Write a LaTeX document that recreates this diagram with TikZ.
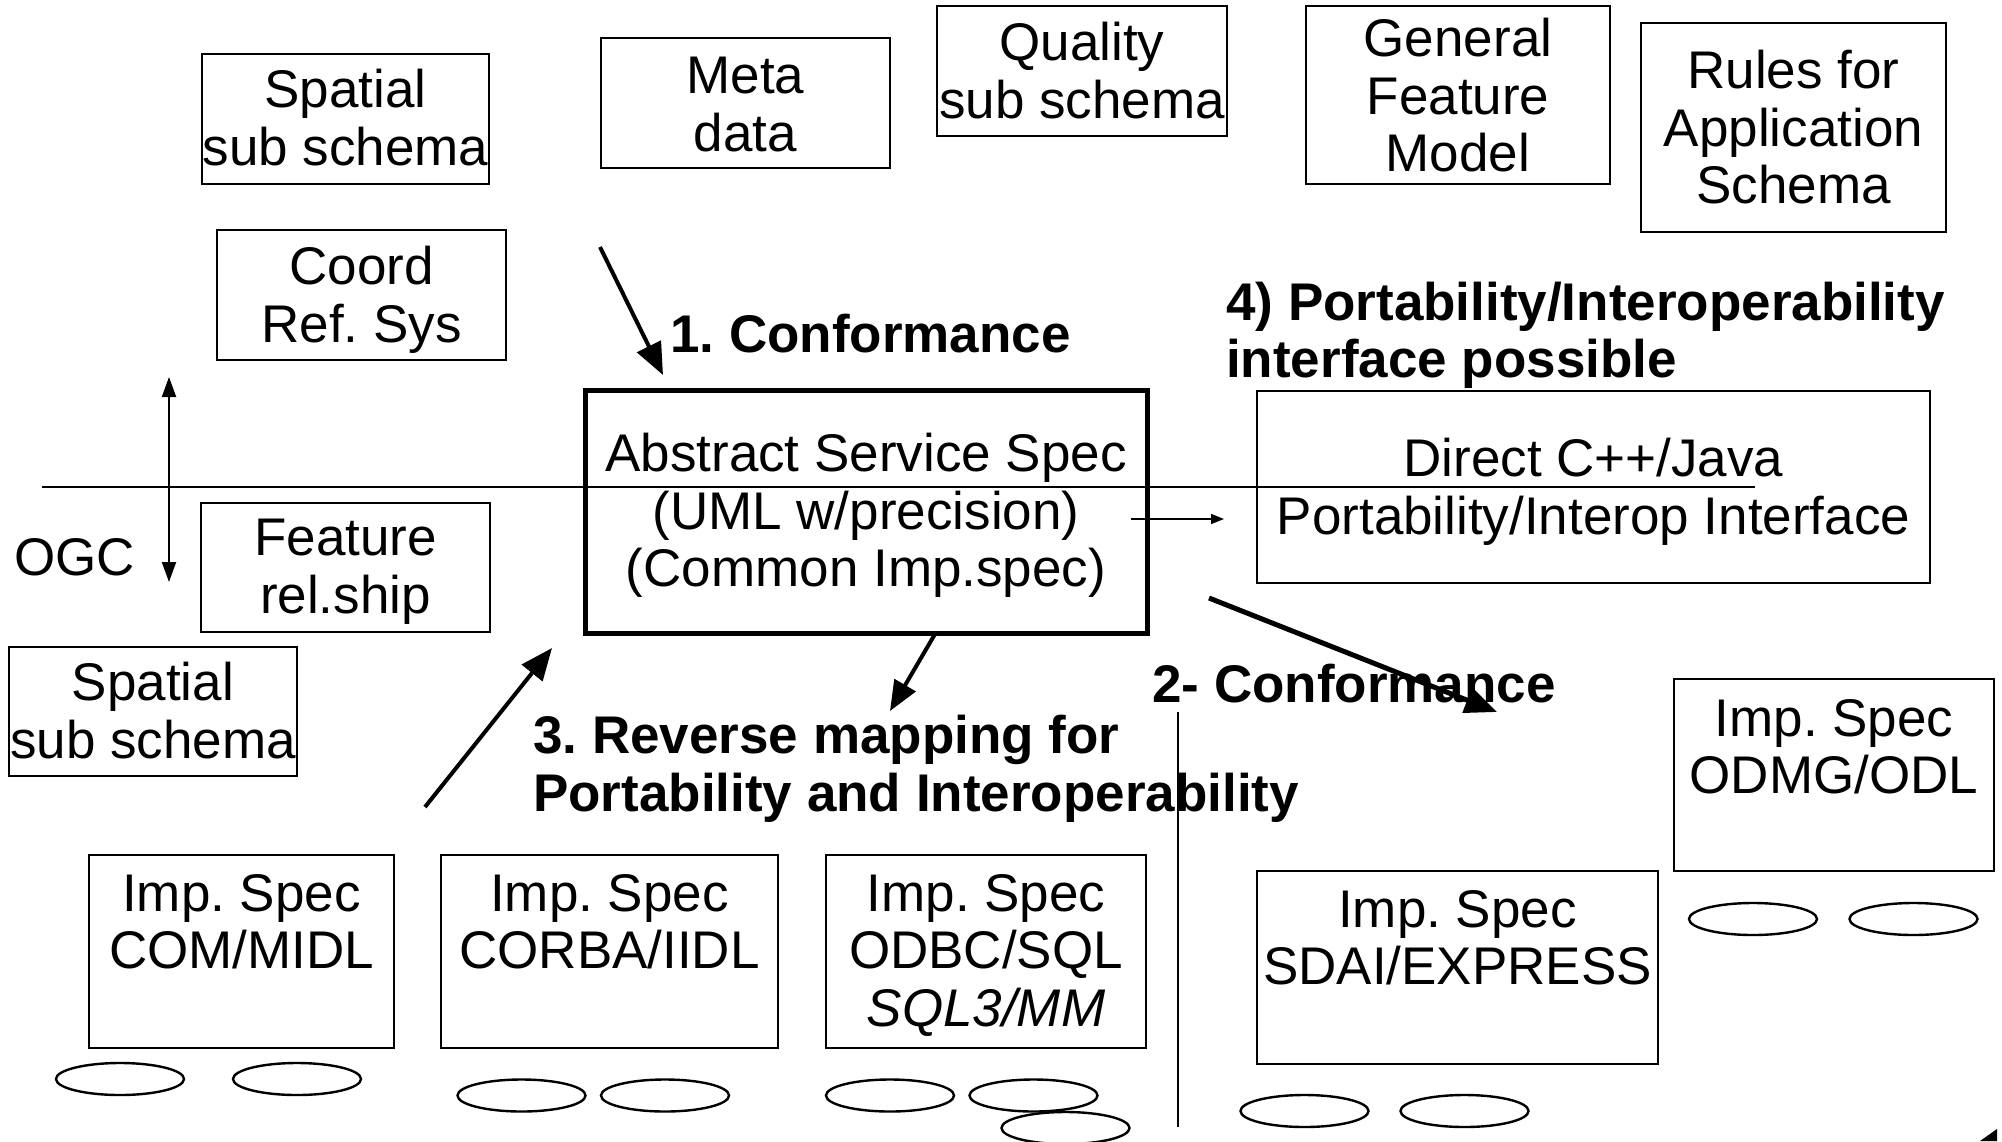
\documentclass[tikz,border=0pt]{standalone}
\usepackage{fontspec}
\setmainfont{Liberation Sans}
\usetikzlibrary{arrows.meta,shapes.geometric}
\newcommand\fsN{\fontsize{53}{57.5}\selectfont\lineskiplimit=-100pt\frenchspacing}
\newcommand\fsB{\fontsize{53}{58}\selectfont\bfseries\lineskiplimit=-100pt\frenchspacing}
\newcommand\fsC{\fontsize{53}{57}\selectfont\bfseries\lineskiplimit=-100pt\frenchspacing}
\begin{document}
\frenchspacing
\begin{tikzpicture}[x=1pt,y=-1pt,
  box/.style={draw, line width=2.4pt, inner sep=0pt},
  bigbox/.style={draw, line width=5pt, inner sep=0pt},
  txt/.style={inner sep=0pt, font=\fsN, align=center, anchor=north, yshift=3pt},
  lbl/.style={inner sep=0pt, font=\fsB, align=left},
  disk/.style={draw, ellipse, line width=2.4pt, inner sep=0pt, minimum width=128pt, minimum height=32pt},
  bigarrow/.style={line width=4pt, -{Triangle[length=32pt,width=26pt]}},
  thinarrow/.style={line width=1.6pt, -{Triangle[length=13pt,width=10pt]}},
  dblarrow/.style={line width=2pt, {Triangle[length=20pt,width=14pt]}-{Triangle[length=20pt,width=14pt]}}
]
\useasboundingbox[fill=white] (0,0) rectangle (2002,1141);

% top row boxes
\node[box, minimum width=287pt, minimum height=130pt] (spatialA) at (345.5,119) {};
\node[txt] (spatialAt) at (345.5,72) {Spatial\\sub schema};
\node[box, minimum width=289pt, minimum height=130pt] (meta) at (745.5,103) {};
\node[txt] (metat) at (745.5,60) {Meta\\data};
\node[box, minimum width=290pt, minimum height=130pt] (quality) at (1082,71) {};
\node[txt] (qualityt) at (1082,25) {Quality\\sub schema};
\node[box, minimum width=304pt, minimum height=178pt] (general) at (1458,95) {};
\node[txt] (generalt) at (1458,21) {General\\Feature\\Model};
\node[box, minimum width=305pt, minimum height=209pt] (rules) at (1793.5,127.5) {};
\node[txt] (rulest) at (1793.5,53) {Rules for\\Application\\Schema};
\node[box, minimum width=289pt, minimum height=130pt] (coord) at (361.5,295) {};
\node[txt] (coordt) at (361.5,249) {Coord\\Ref. Sys};

% middle
\node[box, minimum width=289pt, minimum height=129pt] (feature) at (345.5,567.5) {};
\node[txt] (featuret) at (345.5,522) {Feature\\rel.ship};
\node[box, minimum width=288pt, minimum height=129pt] (spatialB) at (153,711.5) {};
\node[txt] (spatialBt) at (153,665) {Spatial\\sub schema};
\node[inner sep=0pt, font=\fsN, anchor=base west] (ogc) at (14,575) {OGC};

\coordinate (hl1) at (42,487);
\coordinate (hl2) at (1755,487);
\draw[line width=2.4pt] (hl1) -- (hl2);

\node[bigbox, minimum width=562pt, minimum height=243pt] (abstract) at (866,511.5) {};
\node[txt] (abstractt) at (866,436) {Abstract Service Spec\\(UML w/precision)\\(Common Imp.spec)};

\node[box, minimum width=673pt, minimum height=192pt] (direct) at (1593.5,487) {};
\node[txt] (directt) at (1593.5,441) {Direct C++/Java\\Portability/Interop Interface};

% bold labels
\node[lbl, anchor=base west] (conf1) at (670,352) {1. Conformance};
\node[lbl, font=\fsC, anchor=north west] (port4) at (1226,282) {4) Portability/Interoperability\\interface possible};
\node[lbl, anchor=north west] (rev3) at (533,715) {3. Reverse mapping for\\Portability and Interoperability};
\node[lbl, anchor=base west] (conf2) at (1152,702) {2- Conformance};

% bottom boxes
\node[box, minimum width=305pt, minimum height=193pt] (com) at (241.5,951.5) {};
\node[txt] (comt) at (241.5,877) {Imp. Spec\\COM/MIDL};
\node[box, minimum width=337pt, minimum height=193pt] (corba) at (609.5,951.5) {};
\node[txt] (corbat) at (609.5,877) {Imp. Spec\\CORBA/IIDL};
\node[box, minimum width=320pt, minimum height=193pt] (odbc) at (986,951.5) {};
\node[txt] (odbct) at (986,877) {Imp. Spec\\ODBC/SQL\\\itshape SQL3/MM};
\node[box, minimum width=401pt, minimum height=193pt] (sdai) at (1457.5,967.5) {};
\node[txt] (sdait) at (1457.5,893) {Imp. Spec\\SDAI/EXPRESS};
\node[box, minimum width=320pt, minimum height=192pt] (odmg) at (1834,775) {};
\node[txt] (odmgt) at (1834,702) {Imp. Spec\\ODMG/ODL};

% disks
\node[disk] (d1) at (120,1079) {};
\node[disk] (d2) at (297,1079) {};
\node[disk] (d3) at (521.5,1095.5) {};
\node[disk] (d4) at (665,1095.5) {};
\node[disk] (d5) at (890,1095.5) {};
\node[disk] (d6) at (1033.5,1095.5) {};
\node[disk] (d7) at (1065.5,1128) {};
\node[disk] (d8) at (1304.5,1111) {};
\node[disk] (d9) at (1464.5,1111) {};
\node[disk] (d10) at (1753,919) {};
\node[disk] (d11) at (1913.5,919) {};

% vertical separator
\coordinate (vs1) at (1178,712);
\coordinate (vs2) at (1178,1127);
\draw[line width=2pt] (vs1) -- (vs2);

% arrows
\coordinate (ogcTop) at (169,377);
\coordinate (ogcBot) at (169,582);
\draw[dblarrow] (ogcBot) -- (ogcTop);

\coordinate (a1s) at (600,247);
\coordinate (a1e) at (663,375);
\draw[bigarrow] (a1s) -- (a1e);

\coordinate (a3s) at (935,634);
\coordinate (a3e) at (890,711);
\draw[bigarrow, -{Triangle[length=30pt,width=24pt]}] (a3s) -- (a3e);

\coordinate (aus) at (425,807);
\coordinate (aue) at (552,648);
\draw[bigarrow] (aus) -- (aue);

\coordinate (a2s) at (1209,598);
\coordinate (a2e) at (1497,712);
\draw[bigarrow, line width=5pt] (a2s) -- (a2e);

\coordinate (sas) at (1131,519);
\coordinate (sae) at (1224,519);
\draw[thinarrow] (sas) -- (sae);

% clipped arrowhead fragment at the corner
\fill (1997,1129) -- (1997,1141) -- (1980,1141) -- cycle;
\end{tikzpicture}
\end{document}
